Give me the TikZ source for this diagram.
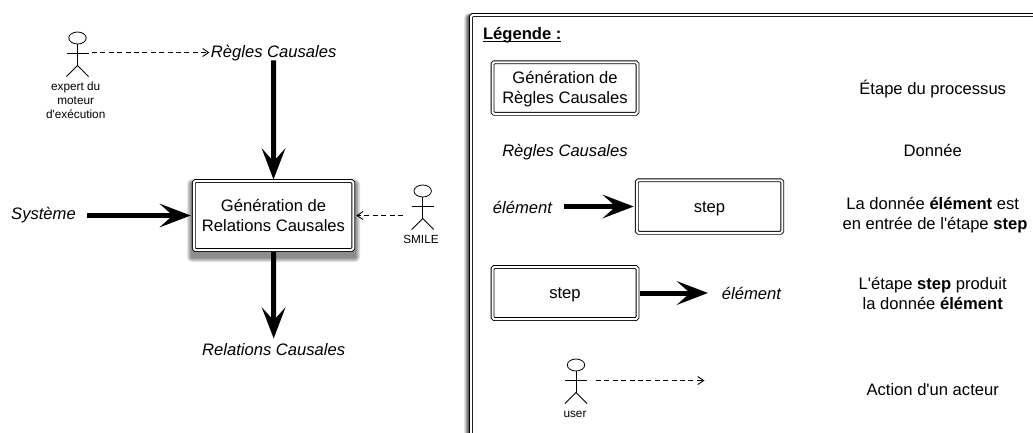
\documentclass[tikz,border=0pt]{standalone}
\usepackage{fontspec}
\setmainfont{Liberation Sans}
\usetikzlibrary{arrows.meta}
\newcommand{\txtL}{\fontsize{16.6}{20}\selectfont}
\newcommand{\txtS}{\fontsize{11.8}{14}\selectfont}
\newcommand{\softshadow}[4]{%
  \foreach \i in {1,...,5}{
    \fill[black,opacity=0.11,rounded corners=\i pt] (#1-\i,#2-\i+5) rectangle (#3+\i,#4+\i+5);
  }}
\newcommand{\boxtext}[2]{\raisebox{#1}[0pt][0pt]{\begin{tabular}[t]{@{}c@{}}#2\end{tabular}}}
\newcommand{\actorfig}[3]{% name, head x, head y
  \draw[actorline] (#2,#3) ellipse [x radius=8.7,y radius=6];
  \draw[actorline] (#2,#3+6) -- (#2,#3+27.5);
  \draw[actorline] (#2-11,#3+15.8) -- (#2+11,#3+15.8);
  \draw[actorline] (#2-11,#3+38.5) -- (#2,#3+27.5) -- (#2+11,#3+38.5);
}
\tikzset{
  x=1pt,y=-1pt,
  actorline/.style={line width=0.8pt},
  framebox/.style={draw=black,fill=white,double=white,double distance=2pt,line width=0.95pt,rounded corners=1.6pt,inner sep=0pt,outer sep=0pt,align=center},
  bigtext/.style={inner sep=0pt,outer sep=0pt,anchor=base,font=\txtL,align=center},
  smalltext/.style={inner sep=0pt,outer sep=0pt,anchor=base,font=\txtS,align=center},
  flow/.style={line width=5pt,-{Stealth[length=31pt,width=23.5pt,inset=13pt]}},
  acts/.style={line width=0.9pt,dash pattern=on 5pt off 3.4pt,-{Straight Barb[length=6pt,width=8pt,line width=0.9pt]}},
}
\begin{document}
\begin{tikzpicture}
\clip (0,0) rectangle (1033,432);
\fill[white] (0,0) rectangle (1033,432);
% legend frame
\softshadow{471}{13}{1100}{500}
\softshadow{469}{13}{1100}{500}
\node[framebox,minimum width=640pt,minimum height=490pt,anchor=north west] (panel) at (471,15) {};
% main diagram
\softshadow{192}{179}{355}{252}
\node[framebox,minimum width=159.5pt,minimum height=69pt,font=\txtL] (main) at (273.5,215.5) {\boxtext{4pt}{Génération de\\Relations Causales}};
\node[bigtext,font=\txtL\itshape] (regles) at (273.7,57) {Règles Causales};
\node[bigtext,font=\txtL\itshape] (systeme) at (43.5,219.5) {Système};
\node[bigtext,font=\txtL\itshape] (relations) at (273.7,355.5) {Relations Causales};
\actorfig{expert}{77.5}{38}
\node[smalltext] (expertlbl1) at (75.7,90) {expert du};
\node[smalltext] (expertlbl2) at (75.7,104) {moteur};
\node[smalltext] (expertlbl3) at (75.7,118) {d\textquotesingle exécution};
\coordinate (experthand) at (92,52.5);
\actorfig{smile}{422.7}{191}
\node[smalltext] (smilelbl) at (421,243) {SMILE};
\coordinate (smilehand) at (403,215.5);
\draw[flow] (regles.south) ++(0,0) -- ([yshift=1.5pt]main.north);
\draw[flow] (systeme.east |- main.west) ++(11,0) -- ([xshift=-3pt]main.west);
\draw[flow] ([yshift=-2pt]main.south) -- ([yshift=5pt]relations.north);
\draw[acts] (experthand) -- ([xshift=-1.5pt]regles.west |- experthand);
\draw[acts] (smilehand) -- ([xshift=3pt]main.east);
% legend
\node[bigtext,font=\txtL\bfseries,anchor=base west] (legtitle) at (483,39.5) {Légende :};
\draw[line width=1pt] (legtitle.base west)++(0,2) -- ++(77.5,0);
\node[framebox,minimum width=145pt,minimum height=51.5pt,font=\txtL] (legstep) at (565,88) {\boxtext{4.5pt}{Génération de\\Règles Causales}};
\node[bigtext,font=\txtL\itshape] (legdata) at (565,156) {Règles Causales};
\node[bigtext,font=\txtL\itshape] (legelem1) at (522.5,213) {élément};
\node[framebox,minimum width=145.5pt,minimum height=52.5pt,font=\txtL] (stepin) at (709.5,206.5) {\boxtext{-5.8pt}{step}};
\node[framebox,minimum width=145pt,minimum height=52pt,font=\txtL] (stepout) at (565,293) {\boxtext{-5.3pt}{step}};
\node[bigtext,font=\txtL\itshape] (legelem2) at (751.5,299) {élément};
\draw[flow] ([xshift=12pt]legelem1.east |- stepin.west) -- ([xshift=-3pt]stepin.west);
\draw[flow] ([xshift=2pt]stepout.east) -- ([xshift=-14pt]legelem2.west |- stepout.east);
\actorfig{user}{576}{365}
\node[smalltext] (userlbl) at (575,417) {user};
\coordinate (userhand) at (596,380.5);
\coordinate (userend) at (704.5,380.5);
\draw[acts] (userhand) -- (userend);
\node[bigtext] (d1) at (932.7,94) {Étape du processus};
\node[bigtext] (d2) at (932.7,156) {Donnée};
\node[bigtext] (d3a) at (932.7,209) {La donnée \textbf{élément} est};
\node[bigtext] (d3b) at (935,229) {en entrée de l\textquotesingle étape \textbf{step}};
\node[bigtext] (d4a) at (932.7,289) {L\textquotesingle étape \textbf{step} produit};
\node[bigtext] (d4b) at (932.7,309) {la donnée \textbf{élément}};
\node[bigtext] (d5) at (932.7,395) {Action d\textquotesingle un acteur};
\end{tikzpicture}
\end{document}
